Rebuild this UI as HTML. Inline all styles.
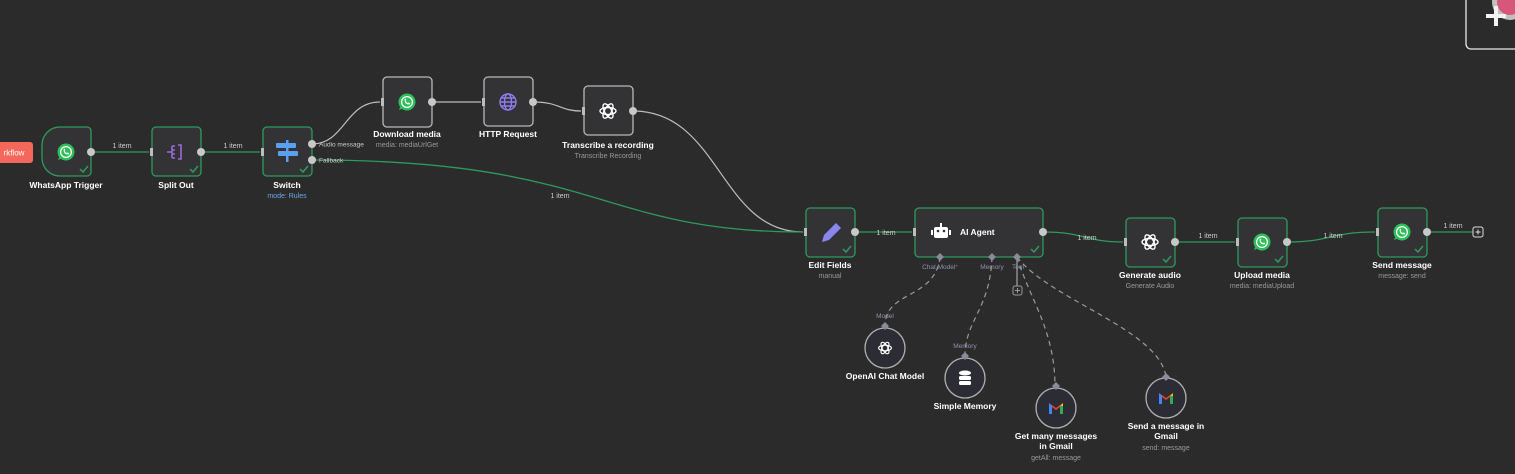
<!DOCTYPE html>
<html><head><meta charset="utf-8"><style>
html,body{margin:0;padding:0;width:1515px;height:474px;overflow:hidden;background:#2b2b2b;}
svg{display:block}
text{font-family:"Liberation Sans",sans-serif;}
.t{fill:#fff;font-size:8.5px;font-weight:bold;text-anchor:middle}
.s{fill:#9a9a9a;font-size:7px;text-anchor:middle}
.l{fill:#cfcfcf;font-size:7px;text-anchor:middle}
.h{fill:#8e93b0;font-size:6.5px;text-anchor:middle}
.ng{fill:#333335;stroke:#2e9a5c;stroke-width:1.3}
.nw{fill:#333335;stroke:#b8b8b8;stroke-width:1.3}
.cg{fill:none;stroke:#2e9a5c;stroke-width:1.3}
.cw{fill:none;stroke:#bdbdbd;stroke-width:1.2}
.d{fill:none;stroke:#9a9a9a;stroke-width:1.2;stroke-dasharray:5 4}
.dot{fill:#c8c8c8}
.ck{fill:none;stroke:#2e9a5c;stroke-width:1.5}
</style></head><body>
<svg width="1515" height="474" viewBox="0 0 1515 474">
<defs>
<pattern id="g" width="16" height="16" patternUnits="userSpaceOnUse"><circle cx="8" cy="8" r="0.7" fill="#3d3d3d"/></pattern>
<g id="wa"><circle r="8.5" fill="#2fbe5a"/><path d="M-8,8 L-6,3 L-3,6Z" fill="#2fbe5a"/><circle r="6" fill="#fff"/><circle r="4.8" fill="#2fbe5a"/><path d="M-2.5,-2.5 q0,5 5,5 l0.8,-1.3 -1.5,-0.8 -0.8,0.8 q-2,-1 -2.5,-2.5 l0.8,-0.8 -0.8,-1.5z" fill="#fff"/></g>
<g id="ai"><g fill="none" stroke="#fff" stroke-width="1.4"><ellipse rx="8" ry="3.5"/><ellipse rx="8" ry="3.5" transform="rotate(60)"/><ellipse rx="8" ry="3.5" transform="rotate(120)"/></g></g>
<g id="gm"><path d="M-7,-5 V6 H-4 V-1 L0,2 L4,-1 V6 H7 V-5 L0,0 Z" fill="#ea4335"/><path d="M-7,-5 V6 H-4 V-2z" fill="#4285f4"/><path d="M7,-5 V6 H4 V-2z" fill="#34a853"/><path d="M4,-2 L7,-5 V-2z" fill="#fbbc04"/></g>
<path id="ck" d="M-4,0 l3,3 l5,-6"/>
</defs>
<rect width="1515" height="474" fill="url(#g)"/>

<!-- top right -->
<rect x="1466" y="-10" width="60" height="59" rx="5" fill="#2b2b2b" stroke="#e8e8e8" stroke-width="1.3"/>
<circle cx="1510" cy="2" r="18" fill="#c0c0c0"/><circle cx="1510" cy="2" r="13" fill="#d7567a"/>
<path d="M1496,6 v20 M1486,16 h20" stroke="#f2f2f2" stroke-width="4"/>

<!-- red button -->
<rect x="-6" y="142" width="39" height="21" rx="3" fill="#f4675b"/>
<text x="14" y="155.5" style="fill:#fff;font-size:8px;text-anchor:middle">rkflow</text>

<!-- connectors -->
<path class="cg" d="M91,152 H149"/><text x="122" y="148" class="l">1 item</text>
<path class="cg" d="M201,152 H260"/><text x="233" y="148" class="l">1 item</text>
<path class="cw" d="M312,144 C345,144 345,102 380,102"/>
<path class="cw" d="M432,102 H481"/>
<path class="cw" d="M533,102 C560,102 560,111 581,111"/>
<path class="cw" d="M633,111 C720,111 720,232 803,232"/>
<path class="cg" d="M312,160 C600,160 600,232 803,232"/><text x="560" y="198" class="l">1 item</text>
<path class="cg" d="M855,232 H912"/><text x="886" y="235" class="l">1 item</text>
<path class="cg" d="M1043,232 C1085,232 1085,242 1123,242"/><text x="1087" y="240" class="l">1 item</text>
<path class="cg" d="M1175,242 H1235"/><text x="1208" y="238" class="l">1 item</text>
<path class="cg" d="M1287,242 C1330,242 1330,232 1375,232"/><text x="1333" y="238" class="l">1 item</text>
<path class="cg" d="M1427,232 H1473"/><text x="1453" y="228" class="l">1 item</text>
<rect x="1473" y="227" width="10" height="10" rx="2" fill="#2b2b2b" stroke="#ddd" stroke-width="1"/><path d="M1478,229.5 v5 M1475.5,232 h5" stroke="#ddd" stroke-width="1"/>

<!-- dashed -->
<path class="d" d="M940,257 C935,300 885,290 885,326"/>
<path class="d" d="M992,257 C990,310 965,320 965,356"/>
<path class="d" d="M1017,257 C1030,300 1055,330 1055,387"/>
<path class="d" d="M1017,257 C1050,300 1160,330 1166,377"/>
<path d="M1017,257 V286" stroke="#9a9a9a" stroke-width="1.3"/>
<rect x="1013" y="286" width="9" height="9" rx="2" fill="#2b2b2b" stroke="#9a9a9a"/><path d="M1017.5,288 v5 M1015,290.5 h5" stroke="#9a9a9a"/>

<!-- nodes -->
<path class="ng" d="M60,127 H87 a4,4 0 0 1 4,4 V172 a4,4 0 0 1 -4,4 H60 a18,18 0 0 1 -18,-18 V145 a18,18 0 0 1 18,-18Z"/>
<use href="#wa" x="66" y="152"/><use href="#ck" x="84" y="169" class="ck"/>
<text x="66" y="188" class="t">WhatsApp Trigger</text>

<rect class="ng" x="152" y="127" width="49" height="49" rx="4"/>
<g stroke="#9a6bd8" stroke-width="1.6" fill="none"><path d="M167,152 h5 M172,146 v12 M172,146 h3 M172,150 h3 M172,154 h3 M172,158 h3"/><path d="M178,145 h3 v14 h-3"/></g>
<use href="#ck" x="194" y="169" class="ck"/>
<text x="176" y="188" class="t">Split Out</text>

<rect class="ng" x="263" y="127" width="49" height="49" rx="4"/>
<rect x="276" y="143" width="20" height="5" rx="1" fill="#5aa0f0"/><rect x="278" y="151" width="20" height="5" rx="1" fill="#5aa0f0"/><rect x="286" y="140" width="2.5" height="22" fill="#5aa0f0"/>
<use href="#ck" x="304" y="169" class="ck"/>
<text x="287" y="188" class="t">Switch</text><text x="287" y="198" class="s" style="fill:#6ea8e8">mode: Rules</text>
<text x="319" y="146.5" style="fill:#ccc;font-size:6.5px">Audio message</text>
<text x="319" y="162.5" style="fill:#ccc;font-size:6.5px">Fallback</text>

<rect class="nw" x="383" y="77" width="49" height="50" rx="4"/><use href="#wa" x="407" y="102"/>
<text x="407" y="137" class="t">Download media</text><text x="407" y="147" class="s">media: mediaUrlGet</text>

<rect class="nw" x="484" y="77" width="49" height="49" rx="4"/>
<g fill="none" stroke="#8f7cf0" stroke-width="1.4"><circle cx="508" cy="102" r="8"/><ellipse cx="508" cy="102" rx="3.5" ry="8"/><path d="M500,102 h16 M501,98 h14 M501,106 h14"/></g>
<text x="508" y="137" class="t">HTTP Request</text>

<rect class="nw" x="584" y="86" width="49" height="49" rx="4"/><use href="#ai" x="608" y="111"/>
<text x="608" y="148" class="t">Transcribe a recording</text><text x="608" y="158" class="s">Transcribe Recording</text>

<rect class="ng" x="806" y="208" width="49" height="49" rx="4"/>
<path d="M822,242 l2,-7 l12,-12 l5,5 l-12,12z" fill="#8b86ee"/>
<use href="#ck" x="847" y="249" class="ck"/>
<text x="830" y="268" class="t">Edit Fields</text><text x="830" y="278" class="s">manual</text>

<rect class="ng" x="915" y="208" width="128" height="49" rx="4"/>
<rect x="934" y="227" width="14" height="11" rx="2" fill="#fff"/><rect x="931" y="230" width="2" height="5" fill="#fff"/><rect x="949" y="230" width="2" height="5" fill="#fff"/><rect x="940" y="223" width="2" height="4" fill="#fff"/>
<circle cx="938" cy="231" r="1.3" fill="#333"/><circle cx="944" cy="231" r="1.3" fill="#333"/>
<text x="960" y="235" style="fill:#fff;font-size:8.5px;font-weight:bold">AI Agent</text>
<use href="#ck" x="1035" y="249" class="ck"/>
<g fill="#8a8a9a"><path d="M940,253 l4,4 -4,4 -4,-4z"/><path d="M992,253 l4,4 -4,4 -4,-4z"/><path d="M1017,253 l4,4 -4,4 -4,-4z"/></g>
<text x="940" y="269" class="h">Chat Model<tspan fill="#e05050">*</tspan></text><text x="992" y="269" class="h">Memory</text><text x="1018" y="269" class="h">Tool</text>

<rect class="ng" x="1126" y="218" width="49" height="49" rx="4"/><use href="#ai" x="1150" y="242"/><use href="#ck" x="1167" y="259" class="ck"/>
<text x="1150" y="278" class="t">Generate audio</text><text x="1150" y="288" class="s">Generate Audio</text>

<rect class="ng" x="1238" y="218" width="49" height="49" rx="4"/><use href="#wa" x="1262" y="242"/><use href="#ck" x="1279" y="259" class="ck"/>
<text x="1262" y="278" class="t">Upload media</text><text x="1262" y="288" class="s">media: mediaUpload</text>

<rect class="ng" x="1378" y="208" width="49" height="49" rx="4"/><use href="#wa" x="1402" y="232"/><use href="#ck" x="1419" y="249" class="ck"/>
<text x="1402" y="268" class="t">Send message</text><text x="1402" y="278" class="s">message: send</text>

<!-- port dots -->
<g class="dot"><circle cx="91" cy="152" r="4"/><circle cx="201" cy="152" r="4"/><circle cx="312" cy="144" r="4"/><circle cx="312" cy="160" r="4"/><circle cx="432" cy="102" r="4"/><circle cx="533" cy="102" r="4"/><circle cx="633" cy="111" r="4"/><circle cx="855" cy="232" r="4"/><circle cx="1043" cy="232" r="4"/><circle cx="1175" cy="242" r="4"/><circle cx="1287" cy="242" r="4"/><circle cx="1427" cy="232" r="4"/></g>
<g fill="#bdbdbd"><rect x="150" y="148" width="3" height="8"/><rect x="261" y="148" width="3" height="8"/><rect x="381" y="98" width="3" height="8"/><rect x="482" y="98" width="3" height="8"/><rect x="582" y="107" width="3" height="8"/><rect x="804" y="228" width="3" height="8"/><rect x="913" y="228" width="3" height="8"/><rect x="1124" y="238" width="3" height="8"/><rect x="1236" y="238" width="3" height="8"/><rect x="1376" y="228" width="3" height="8"/></g>

<!-- sub nodes -->
<g fill="#2c2c34" stroke="#b0b0b0" stroke-width="1.3">
<circle cx="885" cy="348" r="20"/><circle cx="965" cy="378" r="20"/><circle cx="1056" cy="408" r="20"/><circle cx="1166" cy="398" r="20"/></g>
<g fill="#8a8a9a"><path d="M885,322 l4,4 -4,4 -4,-4z"/><path d="M965,352 l4,4 -4,4 -4,-4z"/><path d="M1056,382 l4,4 -4,4 -4,-4z"/><path d="M1166,373 l4,4 -4,4 -4,-4z"/></g>
<text x="885" y="318" class="h">Model</text><text x="965" y="348" class="h">Memory</text>
<use href="#ai" x="885" y="348" transform="translate(885 348) scale(0.8) translate(-885 -348)"/>
<g fill="#fff"><ellipse cx="965" cy="373" rx="6" ry="2.5"/><rect x="959" y="376" width="12" height="4" rx="1.5"/><rect x="959" y="381" width="12" height="4" rx="1.5"/></g>
<use href="#gm" x="1056" y="408"/><use href="#gm" x="1166" y="398"/>
<text x="885" y="379" class="t">OpenAI Chat Model</text>
<text x="965" y="409" class="t">Simple Memory</text>
<text x="1056" y="439" class="t">Get many messages</text><text x="1056" y="449" class="t">in Gmail</text><text x="1056" y="460" class="s">getAll: message</text>
<text x="1166" y="429" class="t">Send a message in</text><text x="1166" y="439" class="t">Gmail</text><text x="1166" y="450" class="s">send: message</text>
</svg>
</body></html>
